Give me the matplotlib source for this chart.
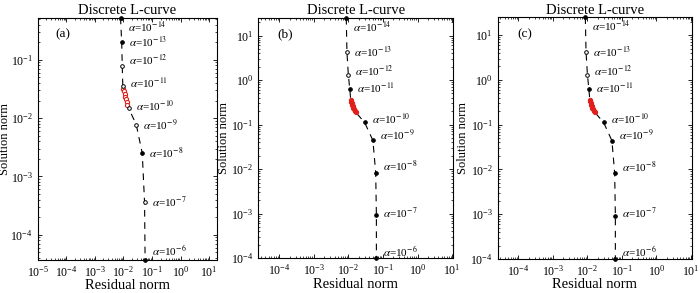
import numpy as np
import matplotlib
matplotlib.use('Agg')
import matplotlib.pyplot as plt
from matplotlib.ticker import LogLocator, NullFormatter

plt.rcParams.update({
    "font.family": "serif",
    "font.serif": ['Liberation Serif', 'DejaVu Serif'],
})
plt.rcParams['mathtext.fontset'] = 'stix'

# regularization parameters shown on the curves
alpha_exp = [-14, -13, -12, -11, -10, -9, -8, -7, -6]

# (a) residual norm / solution norm at the labelled points
res_a = [0.0079, 0.0087, 0.0091, 0.0095, 0.0151, 0.0282, 0.0457, 0.0550, 0.0575]
sol_a = [0.53, 0.20, 0.079, 0.036, 0.015, 0.0077, 0.0025, 3.6e-4, 3.7e-5]
# (a) red points between alpha=1e-11 and 1e-10
red_res_a = [0.0100, 0.0105, 0.0110, 0.0116, 0.0122, 0.0129, 0.0138]
red_sol_a = [0.032, 0.029, 0.026, 0.023, 0.021, 0.019, 0.0168]

# (b) and (c)
res_b = [0.0087, 0.0091, 0.0100, 0.0110, 0.0295, 0.0513, 0.0617, 0.0646, 0.0646]
sol_b = [25, 4.3, 1.3, 0.63, 0.112, 0.044, 0.0083, 9.3e-4, 1e-4]
red_res_b = [0.0117, 0.0120, 0.0124, 0.0128, 0.0133, 0.0140, 0.0148, 0.0155, 0.0162]
red_sol_b = [0.36, 0.33, 0.30, 0.28, 0.26, 0.24, 0.22, 0.205, 0.19]

panels = [
    dict(tag='(a)', res=res_a, sol=sol_a, rres=red_res_a, rsol=red_sol_a,
         xlim=(1e-5, 19), ylim=(3.7e-5, 0.53), red_open=True,
         filled=[1, 1, 0, 0, 0, 0, 1, 0, 1],
         dy=[9, 0, -6, -3, -2, 1, 0, 0, -9],
         rect=[0.054, 0.113, 0.256, 0.827], ylx=-0.15),
    dict(tag='(b)', res=res_b, sol=sol_b, rres=red_res_b, rsol=red_sol_b,
         xlim=(2.5e-5, 10.5), ylim=(1e-4, 25), red_open=False,
         filled=[1, 0, 0, 1, 1, 1, 1, 1, 1],
         dy=[9, 0, -4, -1, -4, -5, -6, -2, -7],
         rect=[0.369, 0.119, 0.278, 0.820], ylx=-0.145),
    dict(tag='(c)', res=res_b, sol=sol_b, rres=red_res_b, rsol=red_sol_b,
         xlim=(2.5e-5, 10.5), ylim=(1e-4, 25), red_open=False,
         filled=[1, 0, 0, 1, 1, 1, 1, 1, 1],
         dy=[9, 0, -4, -1, -4, -5, -6, -2, -7],
         rect=[0.711, 0.116, 0.277, 0.825], ylx=-0.15),
]

fig = plt.figure(figsize=(7.0, 2.93), dpi=100)

for p in panels:
    ax = fig.add_axes(p['rect'])
    ax.set_xscale('log')
    ax.set_yscale('log')
    # curve: labelled points with the red cluster in between
    cx = p['res'][:4] + p['rres'] + p['res'][4:]
    cy = p['sol'][:4] + p['rsol'] + p['sol'][4:]
    ax.plot(cx, cy, color='k', lw=0.8, ls=(0, (6, 5)), clip_on=False)
    if p['red_open']:
        ax.plot(p['rres'], p['rsol'], 'o', ms=3, mfc='white', mec='#e0201a', mew=0.8)
    else:
        ax.plot(p['rres'], p['rsol'], 'o', ms=3, mfc='#e0201a', mec='#e0201a', mew=0.8)
    for i in range(len(alpha_exp)):
        fc = 'k' if p['filled'][i] else 'white'
        ax.plot(p['res'][i], p['sol'][i], 'o', ms=2.6, mfc=fc, mec='k', mew=0.7,
                clip_on=False, zorder=5)
        ax.annotate(r'$\alpha$=10$^{%d}$' % alpha_exp[i], (p['res'][i], p['sol'][i]),
                    xytext=(7, -p['dy'][i]), textcoords='offset pixels',
                    ha='left', va='center', fontsize=8)
    ax.set_xlim(p['xlim'])
    ax.set_ylim(p['ylim'])
    for axis in (ax.xaxis, ax.yaxis):
        axis.set_major_locator(LogLocator(base=10, numticks=30))
        axis.set_minor_locator(LogLocator(base=10, subs=np.arange(2, 10), numticks=30))
        axis.set_minor_formatter(NullFormatter())
    ax.text(0.10, 0.93, p['tag'], transform=ax.transAxes, fontsize=9.5, va='center')
    ax.set_title('Discrete L-curve', fontsize=10.5, pad=2.5)
    ax.set_xlabel('Residual norm', fontsize=10.5, labelpad=0)
    ax.set_ylabel('Solution norm', fontsize=9)
    ax.yaxis.set_label_coords(p['ylx'], 0.5)
    ax.tick_params(which='both', direction='in', top=True, right=True, labelsize=8.5)
    ax.tick_params(which='major', length=3, width=0.6, pad=3.5)
    ax.tick_params(which='minor', length=1.5, width=0.5)
    for s in ax.spines.values():
        s.set_linewidth(0.8)

plt.savefig('out.png', dpi=100)
